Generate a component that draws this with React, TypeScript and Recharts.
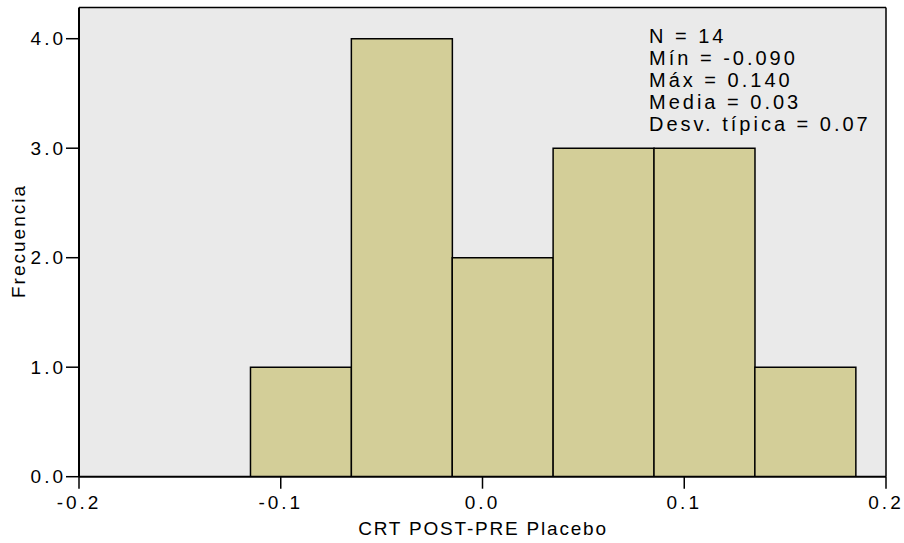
import { ComposedChart, Bar, XAxis, YAxis, CartesianGrid, ReferenceLine } from "recharts";

// histogram bins (centres, width 0.05) and counts
const binCenters = [-0.09, -0.04, 0.01, 0.06, 0.11, 0.16];
const frequencies = [1, 4, 2, 3, 3, 1];

const xTicks = [-0.2, -0.1, 0.0, 0.1, 0.2];
const yTicks = [0, 1, 2, 3, 4];

const statLines = [
  "N = 14",
  "Mín = -0.090",
  "Máx = 0.140",
  "Media = 0.03",
  "Desv. típica = 0.07",
];

const FONT = "'Liberation Sans', Arial, Helvetica, sans-serif";
const X_MIN = -0.2;
const X_MAX = 0.2;
const Y_MAX = 4.285;

const data = binCenters.map((x, i) => ({ x, freq: frequencies[i] }));

const tickStyle = { fontSize: 19, fill: "#000", fontFamily: FONT, letterSpacing: 3 };

export default function App() {
  return (
    <div style={{ position: "absolute", left: 0, top: 0, width: 904, height: 543, background: "#fff" }}>
      <ComposedChart
        width={904}
        height={543}
        data={data}
        margin={{ top: 7.5, right: 18, left: 0, bottom: 0 }}
        barCategoryGap={0}
        barGap={0}
      >
        <CartesianGrid fill="#EAEAEA" horizontal={false} vertical={false} />
        <XAxis
          dataKey="x"
          type="number"
          domain={[X_MIN, X_MAX]}
          ticks={xTicks}
          allowDataOverflow
          tickFormatter={(v: number) => v.toFixed(1)}
          height={66.3}
          tickSize={12}
          tickMargin={7}
          tick={tickStyle}
          axisLine={{ stroke: "#000", strokeWidth: 2 }}
          tickLine={{ stroke: "#000", strokeWidth: 1.5 }}
        />
        <YAxis
          type="number"
          domain={[0, Y_MAX]}
          ticks={yTicks}
          allowDataOverflow
          tickFormatter={(v: number) => v.toFixed(1)}
          width={79}
          tickSize={13}
          tickMargin={0}
          tick={tickStyle}
          axisLine={{ stroke: "#000", strokeWidth: 2 }}
          tickLine={{ stroke: "#000", strokeWidth: 1.5 }}
        />
        <Bar
          dataKey="freq"
          fill="#D3CE98"
          stroke="#000"
          strokeWidth={1.5}
          isAnimationActive={false}
        />
        {/* frame: top and right edges */}
        <ReferenceLine y={Y_MAX} stroke="#000" strokeWidth={1.5} />
        <ReferenceLine x={X_MAX} stroke="#000" strokeWidth={1.5} />
      </ComposedChart>

      {/* labels and summary box */}
      <svg
        width={904}
        height={543}
        style={{ position: "absolute", left: 0, top: 0, pointerEvents: "none" }}
        fontFamily={FONT}
      >
        <text
          transform="translate(25,241) rotate(-90)"
          textAnchor="middle"
          fontSize={19}
          letterSpacing={2}
        >
          Frecuencia
        </text>
        <text x={483} y={535} textAnchor="middle" fontSize={19} letterSpacing={1.8}>
          CRT POST-PRE Placebo
        </text>
        {statLines.map((s, i) => (
          <text key={s} x={649} y={43 + i * 22} fontSize={20} letterSpacing={3}>
            {s}
          </text>
        ))}
      </svg>
    </div>
  );
}
